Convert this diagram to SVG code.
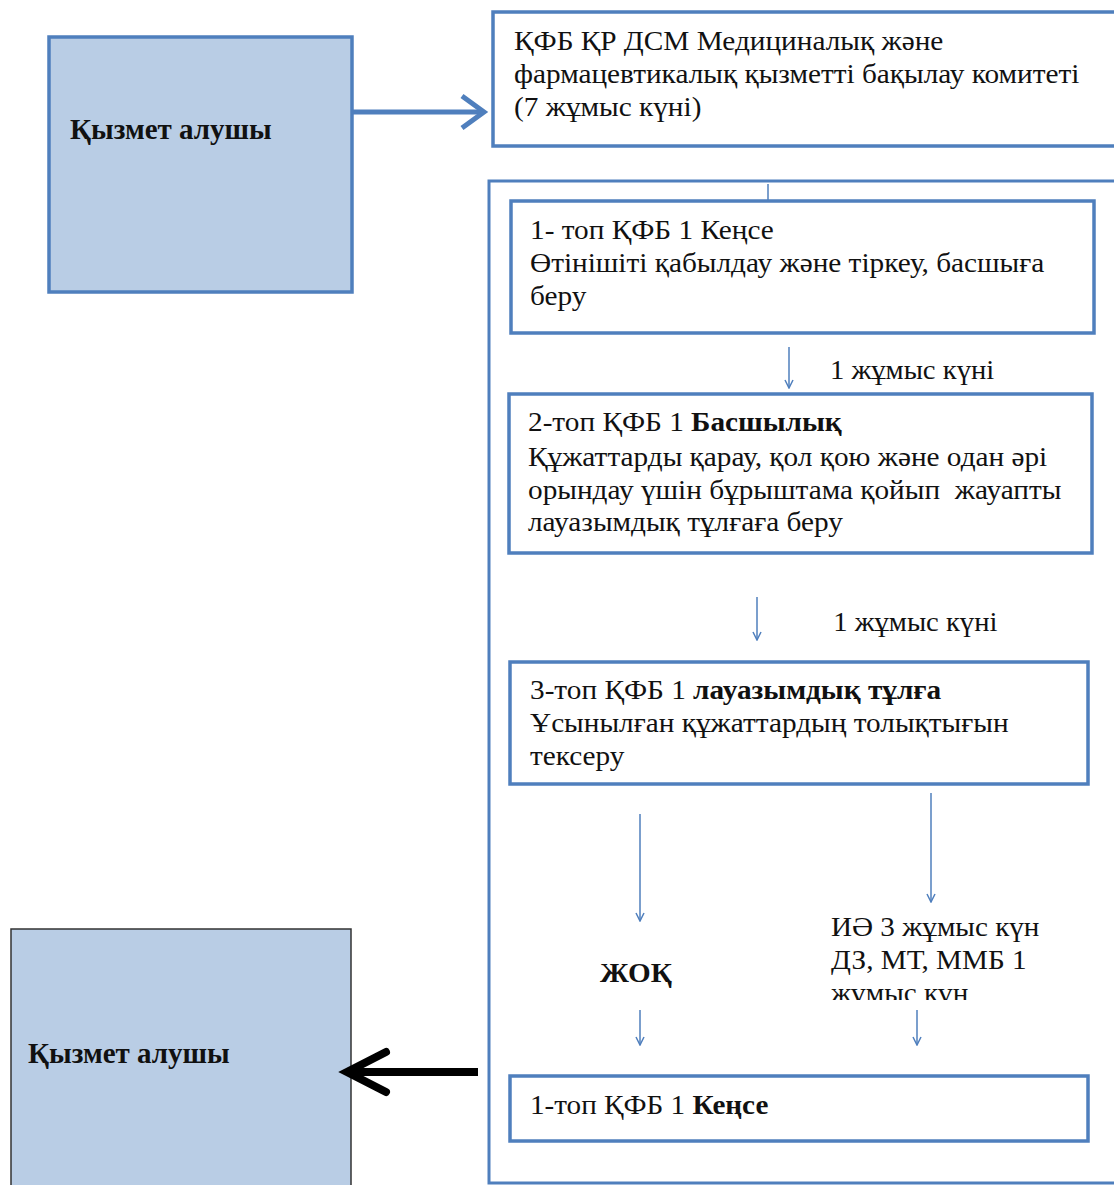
<svg xmlns="http://www.w3.org/2000/svg" width="1114" height="1185" viewBox="0 0 1114 1185">
<style>
text{font-family:"Liberation Serif","Times New Roman",serif;font-size:26.5px;fill:#111;white-space:pre}
.b{font-weight:bold}
.lbl{font-weight:bold;font-size:29px}
.box{fill:#fff;stroke:#4f7fbd;stroke-width:3.5}
.client{fill:#b9cde5;stroke:#4f7fbd;stroke-width:3.5}
.client2{fill:#b9cde5;stroke:#333;stroke-width:1.5}
.thin{stroke:#4f7fbd;stroke-width:1.5;fill:none}
</style>
<defs>
<marker id="ah" viewBox="0 0 10 10" refX="9" refY="5" markerWidth="10" markerHeight="10" markerUnits="userSpaceOnUse" orient="auto">
<path d="M1,1 L9,5 L1,9" fill="none" stroke="#4f7fbd" stroke-width="1.5"/>
</marker>
<clipPath id="cut"><rect x="700" y="900" width="300" height="100"/></clipPath>
</defs>
<rect width="1114" height="1185" fill="#fff"/>
<g id="container"><rect x="489" y="181" width="640" height="1002" fill="none" stroke="#4f7fbd" stroke-width="3"/></g>
<g id="client-top">
<rect class="client" x="49" y="37" width="303" height="255"/>
<text class="lbl" x="70" y="139">Қызмет алушы</text>
</g>
<g id="committee">
<rect class="box" x="493" y="12" width="640" height="134"/>
<g transform="translate(514 0) scale(1.105 1) translate(-514 0)">
<text x="514" y="50">ҚФБ ҚР ДСМ Медициналық және</text>
<text x="514" y="83">фармацевтикалық қызметті бақылау комитеті</text>
<text x="514" y="116">(7 жұмыс күні)</text>
</g>
</g>
<g id="step1">
<rect class="box" x="511" y="201" width="583" height="132"/>
<g transform="translate(530 0) scale(1.105 1) translate(-530 0)">
<text x="530" y="239">1- топ ҚФБ 1 Кеңсе</text>
<text x="530" y="272">Өтінішіті қабылдау және тіркеу, басшыға</text>
<text x="530" y="305">беру</text>
</g>
</g>
<g id="step2">
<rect class="box" x="509" y="394" width="583" height="159"/>
<g transform="translate(528 0) scale(1.105 1) translate(-528 0)">
<text x="528" y="431">2-топ ҚФБ 1 <tspan class="b">Басшылық</tspan></text>
<text x="528" y="466">Құжаттарды қарау, қол қою және одан әрі</text>
<text x="528" y="499">орындау үшін бұрыштама қойып  жауапты</text>
<text x="528" y="531">лауазымдық тұлғаға беру</text>
</g>
</g>
<g id="step3">
<rect class="box" x="510" y="662" width="578" height="122"/>
<g transform="translate(530 0) scale(1.105 1) translate(-530 0)">
<text x="530" y="699">3-топ ҚФБ 1 <tspan class="b">лауазымдық тұлға</tspan></text>
<text x="530" y="732">Ұсынылған құжаттардың толықтығын</text>
<text x="530" y="765">тексеру</text>
</g>
</g>
<g id="step4">
<rect class="box" x="510" y="1076" width="578" height="65"/>
<g transform="translate(530 0) scale(1.1 1) translate(-530 0)">
<text x="530" y="1114">1-топ ҚФБ 1 <tspan class="b">Кеңсе</tspan></text>
</g>
</g>
<g id="client-bottom">
<rect class="client2" x="11" y="929" width="340" height="270"/>
<text class="lbl" x="28" y="1063">Қызмет алушы</text>
</g>
<g id="labels">
<g transform="translate(830 0) scale(1.08 1) translate(-830 0)">
<text x="830" y="379">1 жұмыс күні</text>
<text x="833" y="631">1 жұмыс күні</text>
</g>
<g transform="translate(600 0) scale(1.1 1) translate(-600 0)">
<text class="b" x="600" y="982">ЖОҚ</text>
</g>
<g transform="translate(831 0) scale(1.1 1) translate(-831 0)">
<text x="831" y="936">ИӘ 3 жұмыс күн</text>
<text x="831" y="969">ДЗ, МТ, ММБ 1</text>
<text x="831" y="1002" clip-path="url(#cut)">жұмыс күн</text>
</g>
</g>
<g id="connectors">
<line x1="352" y1="112" x2="484" y2="112" stroke="#4f7fbd" stroke-width="5"/>
<path d="M462,96 L484,112 L462,128" fill="none" stroke="#4f7fbd" stroke-width="5"/>
<line class="thin" x1="768" y1="184" x2="768" y2="200"/>
<line class="thin" x1="789" y1="347" x2="789" y2="388" marker-end="url(#ah)"/>
<line class="thin" x1="757" y1="597" x2="757" y2="640" marker-end="url(#ah)"/>
<line class="thin" x1="640" y1="814" x2="640" y2="921" marker-end="url(#ah)"/>
<line class="thin" x1="931" y1="793" x2="931" y2="902" marker-end="url(#ah)"/>
<line class="thin" x1="640" y1="1010" x2="640" y2="1045" marker-end="url(#ah)"/>
<line class="thin" x1="917" y1="1010" x2="917" y2="1045" marker-end="url(#ah)"/>
<line x1="478" y1="1072" x2="348" y2="1072" stroke="#000" stroke-width="8"/>
<path d="M386,1052 L347,1072 L386,1092" fill="none" stroke="#000" stroke-width="8" stroke-linecap="round"/>
</g>
</svg>
